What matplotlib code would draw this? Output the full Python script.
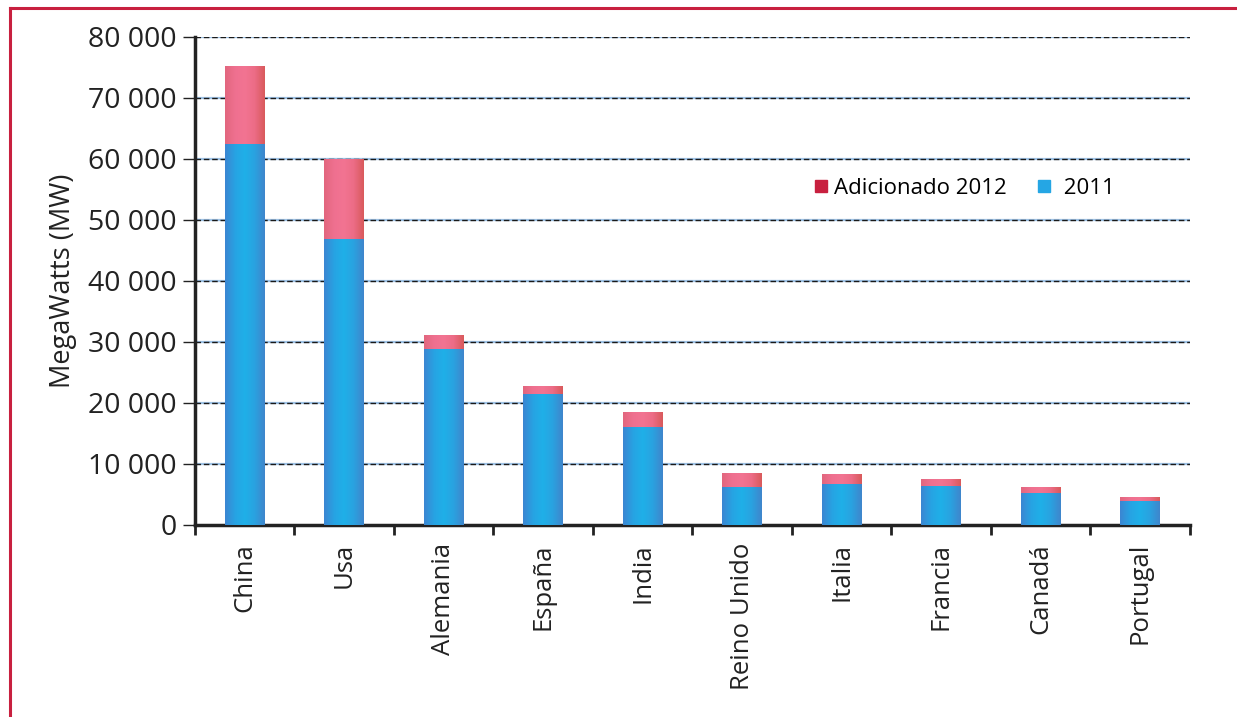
import numpy as np
import matplotlib
matplotlib.use("Agg")
import matplotlib.pyplot as plt
from matplotlib.colors import LinearSegmentedColormap
from matplotlib.lines import Line2D

plt.rcParams['font.family'] = ['Open Sans', 'DejaVu Sans']

countries = ["China", "Usa", "Alemania", "España", "India", "Reino Unido",
             "Italia", "Francia", "Canadá", "Portugal"]
total_2012 = [75300, 60000, 31100, 22800, 18600, 8600, 8300, 7500, 6300, 4600]
base_2011 = [62400, 46900, 28900, 21400, 16100, 6200, 6700, 6400, 5200, 3900]
added_2012 = [t - b for t, b in zip(total_2012, base_2011)]
yticks = [0, 10000, 20000, 30000, 40000, 50000, 60000, 70000, 80000]
ytick_labels = ["0", "10 000", "20 000", "30 000", "40 000", "50 000",
                "60 000", "70 000", "80 000"]

fig = plt.figure(figsize=(12.37, 7.17), dpi=100)
ax = fig.add_axes([0.1576, 0.2678, 0.962 - 0.1576, 0.9484 - 0.2678])

x = np.arange(len(countries))
w = 0.4
blue_cmap = LinearSegmentedColormap.from_list(
    "b", ["#3b86d2", "#27a3e3", "#1fb0e8", "#2aa2e0", "#3f86cc"])
pink_cmap = LinearSegmentedColormap.from_list(
    "p", ["#e2667e", "#ef7090", "#f27492", "#ec6c86", "#d95a5c"])
grad = np.linspace(0, 1, 64).reshape(1, -1)

b1 = ax.bar(x, base_2011, w, color="#25a6e4", zorder=3, label="2011")
b2 = ax.bar(x, added_2012, w, bottom=base_2011, color="#ef7090", zorder=3,
            label="Adicionado 2012")
for bars, cmap in ((b1, blue_cmap), (b2, pink_cmap)):
    for r in bars:
        x0, y0 = r.get_x(), r.get_y()
        im = ax.imshow(grad, cmap=cmap, aspect="auto", zorder=4,
                       extent=[x0, x0 + r.get_width(), y0, y0 + r.get_height()],
                       interpolation="bicubic")
        im.set_clip_path(r)

ax.set_xlim(-0.5, len(countries) - 0.5)
ax.set_ylim(0, 80000)
ax.set_yticks(yticks)
ax.set_yticklabels(ytick_labels, fontsize=20.5, color="#222222")
ax.set_xticks(x)
ax.set_xticklabels(countries, rotation=90, fontsize=18.5, color="#222222")
ax.set_xticks(np.arange(len(countries) + 1) - 0.5, minor=True)
ax.tick_params(axis="x", which="major", length=0, pad=13)
ax.tick_params(axis="x", which="minor", length=7, width=2, color="#222222",
               direction="out")
ax.tick_params(axis="y", length=9, width=1, color="#222222", pad=4)
ax.set_ylabel("MegaWatts (MW)", fontsize=19.5, color="#222222", labelpad=8)

for y in yticks[1:]:
    ax.axhline(y, color="#9fc3e6", lw=1.6, zorder=1)
    ax.axhline(y, color="#1a1a1a", lw=1.0, ls=(0, (4, 2)), zorder=2)

for s in ("top", "right"):
    ax.spines[s].set_visible(False)
ax.spines["left"].set_linewidth(2.5)
ax.spines["left"].set_color("#222222")
ax.spines["bottom"].set_linewidth(2.5)
ax.spines["bottom"].set_color("#222222")

handles = [
    Line2D([], [], marker="s", ls="none", markersize=8, markerfacecolor="#c8203f",
           markeredgecolor="#c8203f"),
    Line2D([], [], marker="s", ls="none", markersize=8, markerfacecolor="#25a6e4",
           markeredgecolor="#25a6e4"),
]
ax.legend(handles, ["Adicionado 2012", " 2011"], ncol=2, frameon=False,
          fontsize=16, loc="center", bbox_to_anchor=(0.772, 0.69),
          handletextpad=0.2, columnspacing=1.3, handlelength=0.8)

# red frame
fig.add_artist(Line2D([10 / 1237, 1.0], [1 - 8 / 717, 1 - 8 / 717],
                      transform=fig.transFigure, color="#c8203f", lw=2.2))
fig.add_artist(Line2D([10 / 1237, 10 / 1237], [0, 1 - 8 / 717],
                      transform=fig.transFigure, color="#c8203f", lw=2.2))

fig.savefig("out.png", dpi=100)
